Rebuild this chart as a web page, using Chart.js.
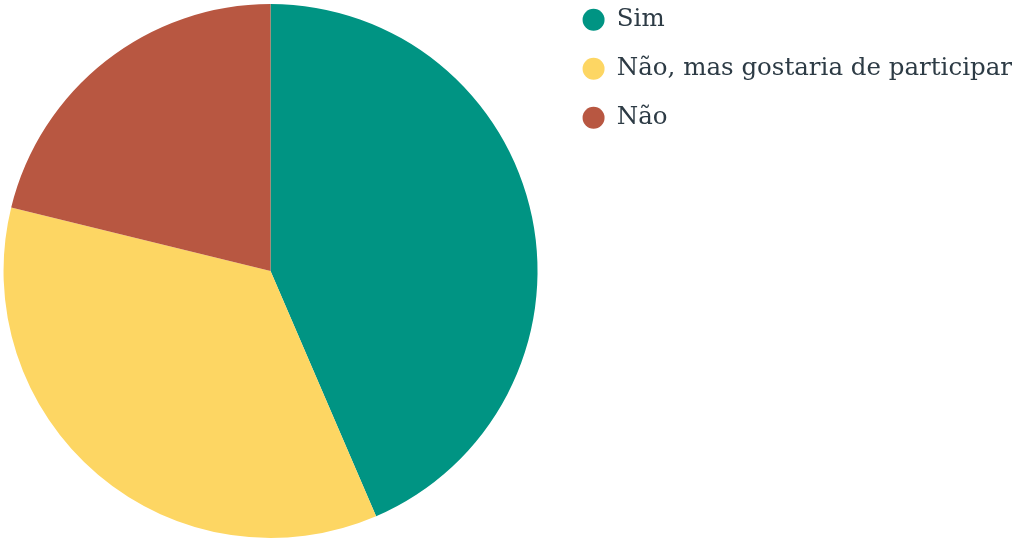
<!DOCTYPE html>
<html lang="pt">
<head>
<meta charset="utf-8">
<script src="https://cdn.jsdelivr.net/npm/chart.js@4/dist/chart.umd.min.js"></script>
<style>
    html, body { margin: 0; padding: 0; background: #fff; }
    #wrap { width: 1015px; height: 542px; position: relative; }
</style>
</head>
<body>
<div id="wrap"><canvas id="pizzaParticipacao"></canvas></div>
<script>
// Respostas da pesquisa
const respostas = ['Sim', 'Não, mas gostaria de participar', 'Não'];
const totais = [37, 30, 18];
const cores = ['#009483', '#FDD663', '#B85741'];

// Sobe a legenda para perto do topo e afasta um pouco da pizza
const ajusteLegenda = {
    id: 'ajusteLegenda',
    afterLayout(chart) {
        const legenda = chart.legend;
        legenda.top -= 21;
        legenda.bottom -= 21;
        legenda.left += 17;
        legenda.right += 17;
    }
};

new Chart(document.getElementById('pizzaParticipacao'), {
    type: 'pie',
    data: {
        labels: respostas,
        datasets: [{
            data: totais,
            backgroundColor: cores,
            borderWidth: 0
        }]
    },
    options: {
        responsive: true,
        maintainAspectRatio: false,
        animation: false,
        layout: {
            padding: { top: 4, bottom: 4, left: 0, right: 10 }
        },
        plugins: {
            tooltip: { enabled: false },
            legend: {
                display: true,
                position: 'right',
                align: 'start',
                labels: {
                    color: '#2d3b45',
                    font: { family: 'DejaVu Serif', size: 24.5 },
                    usePointStyle: true,
                    pointStyle: 'circle',
                    pointStyleWidth: 22,
                    boxHeight: 15.5,
                    padding: 24.5
                }
            }
        }
    },
    plugins: [ajusteLegenda]
});
</script>
</body>
</html>
